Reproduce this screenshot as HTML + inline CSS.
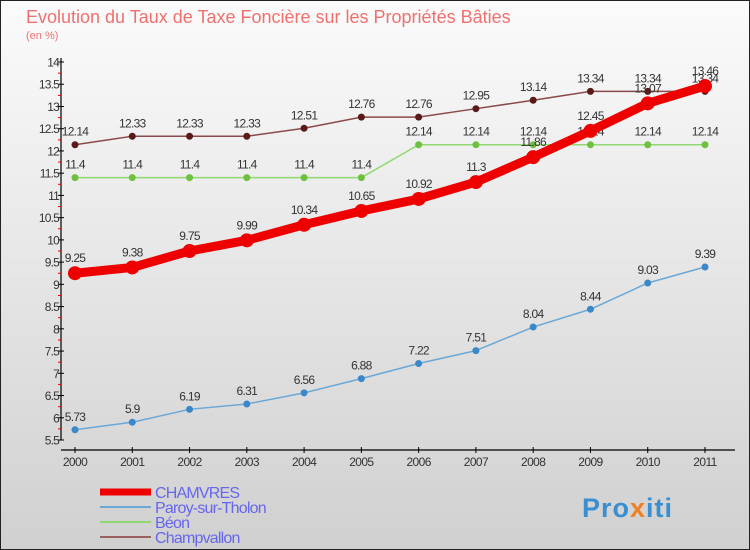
<!DOCTYPE html>
<html><head><meta charset="utf-8"><style>
html,body{margin:0;padding:0}
body{width:750px;height:550px;overflow:hidden;font-family:"Liberation Sans",sans-serif}
</style></head><body>
<svg id="chart" width="750" height="550" xmlns="http://www.w3.org/2000/svg" style="display:block">
<defs><linearGradient id="bg" x1="0" y1="0" x2="0" y2="1"><stop offset="0" stop-color="#fbfbfb"/><stop offset="1" stop-color="#d0d0d0"/></linearGradient></defs>
<rect x="0.5" y="0.5" width="749" height="549" fill="url(#bg)" stroke="#222" stroke-width="1"/>
<text x="26" y="23" font-size="18" fill="#f07070" font-weight="normal">Evolution du Taux de Taxe Foncière sur les Propriétés Bâties</text>
<text x="26" y="39" font-size="11" fill="#f07070">(en %)</text>
<g id="axes"></g><g id="series"></g><g id="legend"></g>
<text x="582" y="517" font-size="27" font-weight="bold" fill="#3a8fd0" letter-spacing="1">Pro<tspan fill="#f08020">x</tspan>iti</text>
</svg>
<script>
const years=[2000,2001,2002,2003,2004,2005,2006,2007,2008,2009,2010,2011];
const yTicks=[5.5,6,6.5,7,7.5,8,8.5,9,9.5,10,10.5,11,11.5,12,12.5,13,13.5,14];
const chamvres=[9.25,9.38,9.75,9.99,10.34,10.65,10.92,11.3,11.86,12.45,13.07,13.46];
const paroy=[5.73,5.9,6.19,6.31,6.56,6.88,7.22,7.51,8.04,8.44,9.03,9.39];
const beon=[11.4,11.4,11.4,11.4,11.4,11.4,12.14,12.14,12.14,12.14,12.14,12.14];
const champvallon=[12.14,12.33,12.33,12.33,12.51,12.76,12.76,12.95,13.14,13.34,13.34,13.34];
const NS='http://www.w3.org/2000/svg';
function X(i){return 75+i*(705-75)/(years.length-1);}
function Y(v){return 62+(14-v)*(440-62)/(14-5.5);}
function mk(tag,attrs,parent,txt){const e=document.createElementNS(NS,tag);for(const k in attrs)e.setAttribute(k,attrs[k]);if(txt!==undefined)e.textContent=txt;parent.appendChild(e);return e;}
const ax=document.getElementById('axes');
let yl=mk('line',{x1:61,y1:58,x2:61,y2:440,stroke:'#000','stroke-width':1.2},ax);


let xl=mk('line',{x1:61,y1:450,x2:735,y2:450,stroke:'#000','stroke-width':1.2},ax);


yTicks.forEach(v=>{const y=Y(v);
 mk('line',{x1:58,y1:y,x2:64,y2:y,stroke:'#000'},ax);
 if(v<14)mk('line',{x1:58,y1:y-11.1,x2:61,y2:y-11.1,stroke:'#e00'},ax);
 const t=mk('text',{x:59,y:y+4.5,'font-size':12,fill:'#333','text-anchor':'end','letter-spacing':'-0.8'},ax,String(v));
 
 
});
years.forEach((yr,i)=>{const x=X(i);
 mk('line',{x1:x,y1:447,x2:x,y2:453,stroke:'#000'},ax);
 const t=mk('text',{x:x,y:466,'font-size':12,fill:'#333','text-anchor':'middle','letter-spacing':'-0.6'},ax,String(yr));
 
 
});
const sg=document.getElementById('series');
function draw(name,vals,color,dot,w,r,labelOff){
 const g=mk('g',{},sg);
 
 
 const pts=vals.map((v,i)=>X(i)+','+Y(v)).join(' ');
 mk('polyline',{points:pts,fill:'none',stroke:color,'stroke-width':w,'stroke-linejoin':'round'},g);
 vals.forEach((v,i)=>{
  const c=mk('circle',{cx:X(i),cy:Y(v),r:r,fill:dot},g);
  
  
  const t=mk('text',{x:X(i),y:Y(v)-labelOff,'font-size':12,fill:'#333','text-anchor':'middle','letter-spacing':'-0.7'},g,String(v));
  
  
 });
}
draw('champvallon',champvallon,'#8a4a4a','#5a1a1a',1.5,3.5,9);
draw('beon',beon,'#90d870','#70c040',1.5,3.5,9);
draw('paroy',paroy,'#6aa8d8','#3a88c8',1.5,3.5,9);
draw('chamvres',chamvres,'#ee0000','#ee0000',9,7,11);
const lg=document.getElementById('legend');
const leg=[['CHAMVRES','#ee0000',7],['Paroy-sur-Tholon','#6aa8d8',2],['Béon','#90d870',2],['Champvallon','#9a6060',2]];
leg.forEach((l,i)=>{const y=492+i*15;
 const g=mk('g',{},lg);
 
 
 mk('line',{x1:100,y1:y,x2:151,y2:y,stroke:l[1],'stroke-width':l[2]},g);
 mk('text',{x:155,y:y+6,'font-size':16,fill:'#6666ee','letter-spacing':'-0.8'},g,l[0]);
});
</script>
</body></html>
